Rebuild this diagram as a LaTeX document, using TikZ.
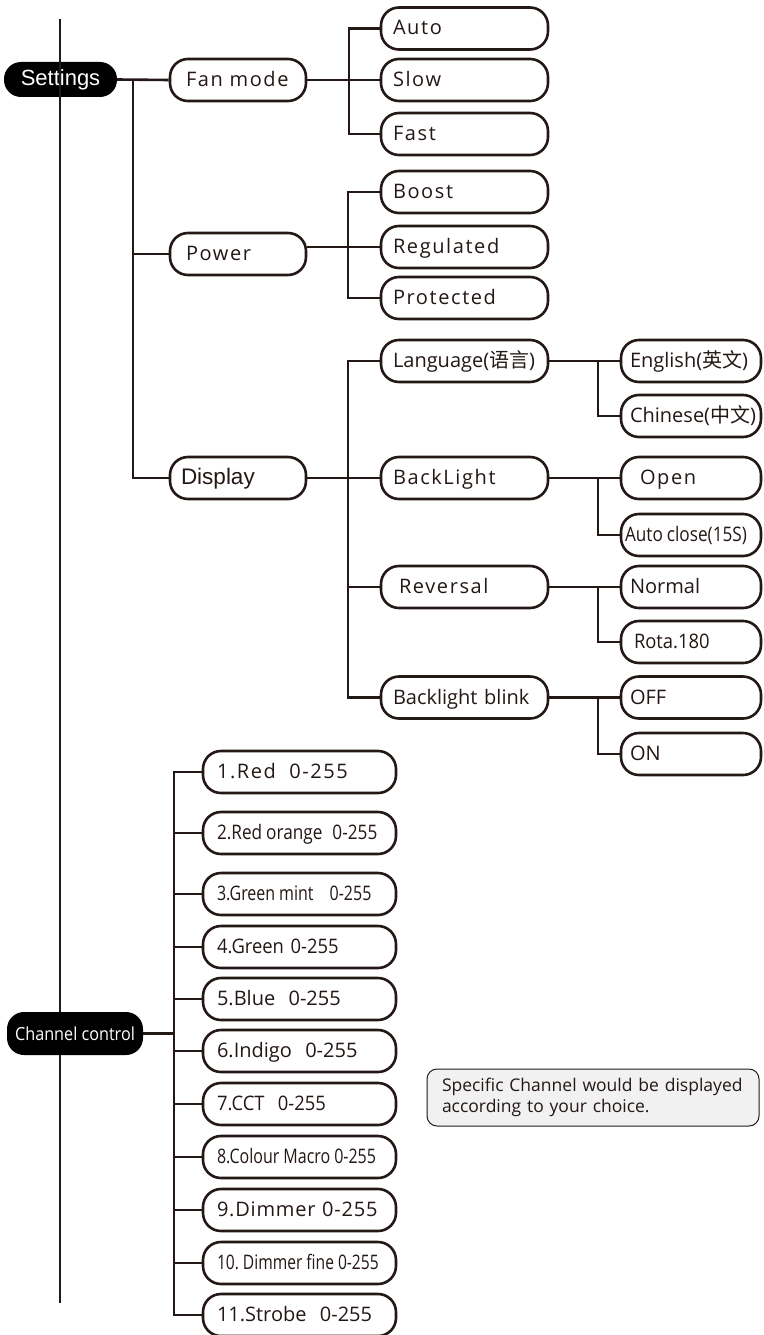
\documentclass[tikz,border=0pt]{standalone}
\usepackage{fontspec}
\setmainfont{Open Sans}
\newfontfamily\menufont[LetterSpace=8]{Open Sans}
\newfontfamily\softfont[LetterSpace=4]{Open Sans}
\newfontfamily\narrowfont[FakeStretch=0.8]{Open Sans}
\newfontfamily\narrowerfont[FakeStretch=0.78]{Open Sans}
\newfontfamily\slimfont[FakeStretch=0.86]{Open Sans}
\newfontfamily\semifont[FakeStretch=0.92]{Open Sans}
\newfontfamily\chanfont[FakeStretch=0.9]{Open Sans}
\newfontfamily\arialfont{Liberation Sans}
\newfontfamily\cjk{Noto Sans CJK SC}
\newcommand\tightsp{\spaceskip=4pt\xspaceskip=4pt\relax}
\usetikzlibrary{positioning}
\definecolor{ink}{RGB}{35,24,21}
\definecolor{notefill}{RGB}{241,241,241}
\tikzset{
  wire/.style={draw=ink, line width=2.6pt},
  menu/.style={draw=ink, line width=2.6pt, fill=white, text=ink, rectangle,
    rounded corners=18pt, minimum height=42pt, inner ysep=0pt, align=left,
    text height=14pt, text depth=1pt, font=\fontsize{20}{24}\selectfont},
  mid/.style={menu, inner xsep=16pt, text width=104pt},
  opt/.style={menu, inner xsep=12pt, text width=143pt},
  leaf/.style={menu, inner xsep=9pt, text width=122pt},
  chan/.style={menu, inner xsep=14pt, text width=165pt},
  head/.style={fill=black, text=white, rectangle, rounded corners=17pt, inner sep=0pt},
  note/.style={draw=ink, line width=1pt, fill=notefill, rounded corners=10pt,
    text=ink, align=left, inner xsep=15pt, text width=302pt, minimum height=57pt,
    font=\fontsize{17.5}{21.5}\selectfont}
}

\begin{document}
\begin{tikzpicture}[x=1pt, y=-1pt]
\useasboundingbox (0,0) rectangle (763,1335);
% settings tree
\node [head, minimum width=113pt, minimum height=35pt, font=\arialfont\fontsize{22}{26}\selectfont] (set) at (60.5,79.5) {Settings};
\node [mid] (fan) at (238,80) {\menufont Fan mode};
\node [mid] (pow) at (238,254) {\menufont Power};
\node [mid, font=\arialfont\fontsize{22.5}{26}\selectfont] (disp) at (238,478) {\hspace{-5pt}Display};
\node [opt] (auto) at (464.5,28.5) {\menufont Auto};
\node [opt] (slow) at (464.5,80) {\menufont Slow};
\node [opt] (fast) at (464.5,134) {\menufont Fast};
\node [opt] (boost) at (464.5,192) {\menufont Boost};
\node [opt] (reg) at (464.5,247) {\menufont Regulated};
\node [opt] (prot) at (464.5,298) {\menufont Protected};
\node [opt] (lang) at (464.5,361) {Language({\cjk 语言})};
\node [opt] (bl) at (464.5,478) {\menufont BackLight};
\node [opt] (rev) at (464.5,587) {\hspace{6pt}\menufont Reversal};
\node [opt] (blink) at (464.5,697.5) {Backlight blink};
\node [leaf] (eng) at (691,361) {English({\cjk 英文})};
\node [leaf] (chi) at (691,416) {Chinese({\cjk 中文})};
\node [leaf] (open) at (691,478) {\hspace{10pt}\menufont Open};
\node [leaf] (aclose) at (691,535) {\mbox{\hspace{-5pt}\slimfont\tightsp Auto close(15S)}};
\node [leaf] (norm) at (691,587) {Normal};
\node [leaf] (rota) at (691,642) {\hspace{4pt}\semifont Rota.180};
\node [leaf] (off) at (691,697.5) {OFF};
\node [leaf] (on) at (691,754) {ON};
% channel tree
\node [head, minimum width=136pt, minimum height=43pt, font=\chanfont\fontsize{18}{22}\selectfont] (chan) at (75,1033.5) {Channel control};
\node [chan] (c1) at (299.5,772) {\menufont 1.Red~ 0-255};
\node [chan] (c2) at (299.5,833) {\mbox{\slimfont\tightsp 2.Red orange\hspace{6pt} 0-255}};
\node [chan] (c3) at (299.5,894) {\mbox{\narrowfont\tightsp 3.Green mint\hspace{12pt} 0-255}};
\node [chan] (c4) at (299.5,947) {\semifont 4.Green 0-255};
\node [chan] (c5) at (299.5,999) {5.Blue~ 0-255};
\node [chan] (c6) at (299.5,1051) {6.Indigo~ 0-255};
\node [chan] (c7) at (299.5,1104) {\semifont 7.CCT~ 0-255};
\node [chan] (c8) at (299.5,1157) {\mbox{\narrowfont\tightsp 8.Colour Macro 0-255}};
\node [chan] (c9) at (299.5,1210) {\mbox{\softfont 9.Dimmer 0-255}};
\node [chan] (c10) at (299.5,1263) {\mbox{\narrowerfont\tightsp 10. Dimmer fine 0-255}};
\node [chan] (c11) at (299.5,1315) {11.Strobe~ 0-255};
\node [note] (msg) at (593,1097.5) {Specific Channel would be displayed\\according to your choice.};
% junctions
\coordinate (j1) at (133,80);
\coordinate (j2) at (349,80);
\coordinate (j3) at (348,247);
\coordinate (j4) at (348,478);
\coordinate (k1) at (598,361);
\coordinate (k2) at (598,478);
\coordinate (k3) at (598,587);
\coordinate (k4) at (598,697.5);
\coordinate (jc) at (174,1033.5);
\coordinate (top) at (60,19);
\coordinate (bot) at (60,1303);
% wires
\draw [wire] (set.east) -- (fan.west);
\draw [wire] (j1) |- (disp.west);
\draw [wire] (j1 |- pow.west) -- (pow.west);
\draw [wire] (fan.east) -- (slow.west);
\draw [wire] (auto.west) -| (j2) |- (fast.west);
\draw [wire] (pow.east |- reg.west) -- (reg.west);
\draw [wire] (boost.west) -| (j3) |- (prot.west);
\draw [wire] (disp.east) -- (bl.west);
\draw [wire] (lang.west) -| (j4) |- (blink.west);
\draw [wire] (j4 |- rev.west) -- (rev.west);
\draw [wire] (lang.east) -- (eng.west);
\draw [wire] (k1) |- (chi.west);
\draw [wire] (bl.east) -- (open.west);
\draw [wire] (k2) |- (aclose.west);
\draw [wire] (rev.east) -- (norm.west);
\draw [wire] (k3) |- (rota.west);
\draw [wire] (blink.east) -- (off.west);
\draw [wire] (k4) |- (on.west);
\draw [wire] (chan.east) -- (jc);
\draw [wire] (c1.west) -| (jc) |- (c11.west);
\foreach \i in {2,...,10}
  \draw [wire] (c\i.west -| jc) -- (c\i.west);
% spine
\draw [wire] (top) -- (top |- chan.north);
\draw [wire] (top |- chan.south) -- (bot);
\end{tikzpicture}
\end{document}
